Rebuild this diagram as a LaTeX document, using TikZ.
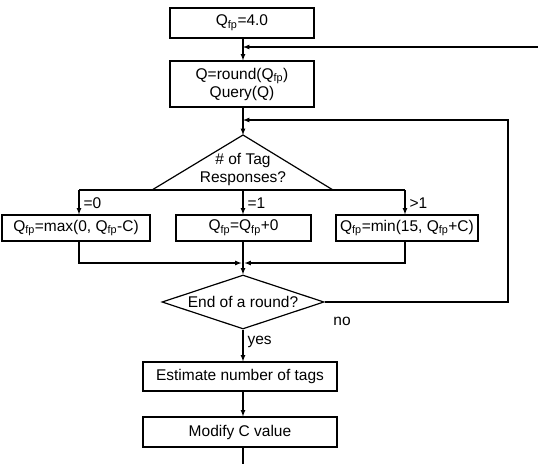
\documentclass[tikz,border=0pt]{standalone}
\usepackage{fontspec}
\setmainfont{Liberation Sans}
\usetikzlibrary{arrows,shapes.geometric,calc}

\tikzset{
  blk/.style={draw, line width=1.2pt, inner sep=0pt, align=center},
  flow/.style={-latex, line width=1.2pt},
  wire/.style={line width=1.2pt},
  lbl/.style={inner sep=4pt},
}
\newcommand{\Qfp}{Q\textsubscript{fp}}

\begin{document}
\begin{tikzpicture}[x=1pt,y=-1pt,font=\fontsize{15.5}{18}\selectfont]
\useasboundingbox (0,0) rectangle (538,464);

% main column
\node[blk, minimum width=144pt, minimum height=30pt] (init) at (242,23) {\Qfp=4.0};
\node[blk, minimum width=144pt, minimum height=46pt] (query) at (242,84) {Q=round(\Qfp)\\Query(Q)};

% tag response decision, sitting on the branch line
\coordinate (tagtop) at (243,135);
\coordinate (tagl) at (152,190);
\coordinate (tagr) at (333,190);
\draw[wire] (tagl) -- (tagtop) -- (tagr);
\node[align=center, inner sep=0pt] (tagq) at (243,169) {\# of Tag\\Responses?};
\coordinate (brl) at (79,190);
\coordinate (brm) at (243,190);
\coordinate (brr) at (405,190);
\draw[wire] (brl) -- (brr);

% the three updates
\node[blk, minimum width=148pt, minimum height=26pt] (zero) at (76,228) {\Qfp=max(0, \Qfp-C)};
\node[blk, minimum width=135pt, minimum height=26pt] (one) at (243.5,228) {\Qfp=\Qfp+0};
\node[blk, minimum width=142pt, minimum height=26pt] (more) at (407,228) {\Qfp=min(15, \Qfp+C)};

\node[blk, shape=diamond, aspect=3, minimum width=162pt, minimum height=54pt] (endq) at (243,302) {End of a round?};
\node[blk, minimum width=194pt, minimum height=29pt] (est) at (240,376.5) {Estimate number of tags};
\node[blk, minimum width=194pt, minimum height=30pt] (mod) at (240,432) {Modify C value};

% loose ends
\coordinate (back) at (538,47);
\coordinate (loopx) at (508,120);
\coordinate (join) at (243,263);
\coordinate (exit) at (243,464);

% connectors
\draw[flow] (init.south -| tagtop) -- (query.north -| tagtop);
\draw[flow] (back) -- (back -| tagtop);
\draw[flow] (query.south -| tagtop) -- (tagtop);
\draw[flow] (brl) -- (zero.north -| brl) node[lbl, pos=0.55, right] {=0};
\draw[flow] (brm) -- (one.north -| brm) node[lbl, pos=0.55, right] {=1};
\draw[flow] (brr) -- (more.north -| brr) node[lbl, pos=0.55, right] {>1};
\draw[flow] (zero.south -| brl) |- ($(join)+(-1.5,0)$);
\draw[flow] (more.south -| brr) |- ($(join)+(1.5,0)$);
\draw[flow] (one.south -| join) -- (endq.north);
\draw[flow] (endq.east) -| (loopx) -- (loopx -| tagtop);
\node[lbl] (no) at (342,321) {no};
\draw[flow] (endq.south) -- (est.north -| endq.south) node[lbl, pos=0.4, right] {yes};
\draw[flow] (est.south -| join) -- (mod.north -| join);
\draw[wire] (mod.south -| exit) -- (exit);
\end{tikzpicture}
\end{document}
